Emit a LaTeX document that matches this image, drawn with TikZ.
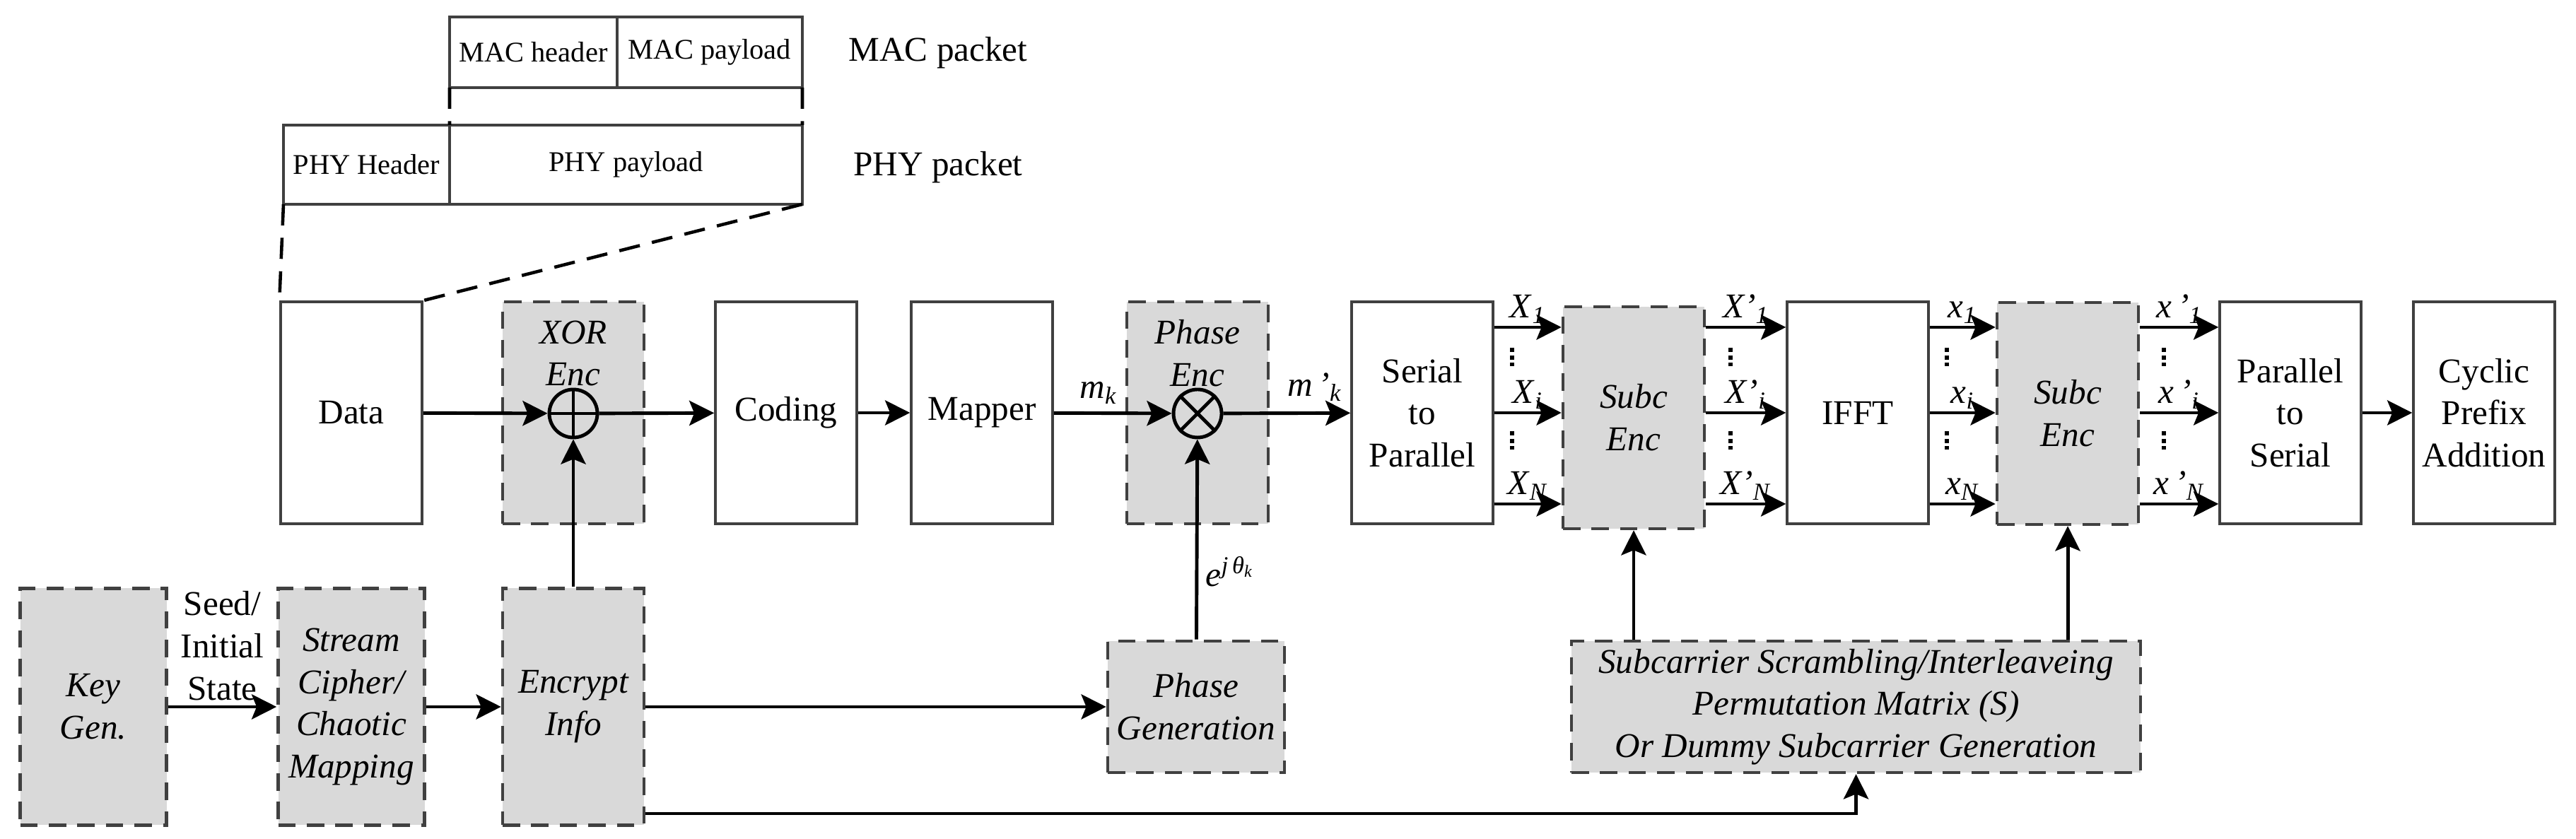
\documentclass[tikz,border=0pt]{standalone}
\usepackage{fontspec}
\setmainfont{Liberation Serif}
\usetikzlibrary{positioning,arrows.meta,calc}
\newcommand{\sym}[2]{\textit{#1}\textsubscript{\textit{#2}}}

\begin{document}
\begin{tikzpicture}[
  blk/.style={draw=black!75,line width=1pt,minimum width=2cm,minimum height=3.14cm,
    inner sep=0pt,align=center,font=\fontsize{14}{17}\selectfont},
  enc/.style={blk,fill=black!15,dash pattern=on 7pt off 4.5pt,line width=1.3pt,
    font=\fontsize{14}{17}\selectfont\itshape},
  pkt/.style={draw=black!75,line width=1.1pt,inner sep=0pt,outer sep=0pt,
    font=\fontsize{11.5}{14}\selectfont},
  arr/.style={-{Stealth[length=10pt,width=10pt,inset=2pt]},line width=1.4pt},
  op/.style={circle,draw,line width=1.4pt,minimum size=0.68cm,inner sep=0pt},
  lbl/.style={font=\fontsize{14}{17}\selectfont,inner sep=1pt},
  cut/.style={dash pattern=on 8.5pt off 5pt,line width=1.3pt},
  dots/.style={line width=1.7pt,dash pattern=on 1.7pt off 1.3pt}
]
\useasboundingbox (0,0) rectangle (36.44,11.87);

% packet formats
\node[pkt,minimum width=2.37cm,minimum height=1cm] (machdr) at (7.545,11.13) {MAC header};
\node[pkt,minimum width=2.62cm,minimum height=1cm,right=0pt of machdr] (macpay) {MAC payload};
\node[pkt,minimum width=2.35cm,minimum height=1.12cm] (phyhdr) at (5.185,9.54) {PHY Header};
\node[pkt,minimum width=4.99cm,minimum height=1.12cm,right=0pt of phyhdr] (phypay) {PHY payload};
\node[lbl] (macpkt) at (13.27,11.12) {MAC packet};
\node[lbl] (phypkt) at (13.27,9.50) {PHY packet};

% transmitter chain
\node[blk] (data) at (4.97,6.03) {Data};
\node[enc] (xorbox) at (8.11,6.03) {};
\node[blk] (coding) at (11.12,6.03) {Coding};
\node[blk] (mapper) at (13.89,6.03) {Mapper};
\node[enc] (phenc) at (16.94,6.03) {};
\node[blk] (sp) at (20.12,6.03) {Serial\\to\\Parallel};
\node[enc] (subca) at (23.11,5.96) {Subc\\Enc};
\node[blk] (ifft) at (26.28,6.03) {IFFT};
\node[enc] (subcb) at (29.25,6.02) {Subc\\Enc};
\node[blk] (ps) at (32.40,6.03) {Parallel\\to\\Serial};
\node[blk] (cp) at (35.14,6.03) {Cyclic\\Prefix\\Addition};

% operators inside the encryption boxes
\node[lbl,font=\fontsize{14}{17}\selectfont\itshape,align=center] (xortxt) at (8.11,6.87) {XOR\\Enc};
\node[lbl,font=\fontsize{14}{17}\selectfont\itshape,align=center] (phtxt) at (16.94,6.87) {Phase\\Enc};
\node[op] (xorc) at (8.11,6.02) {};
\node[op] (phc) at (16.94,6.02) {};
\draw[line width=1.4pt] (xorc.north) -- (xorc.south) (xorc.west) -- (xorc.east);
\draw[line width=1.4pt] (phc.north west) -- (phc.south east) (phc.north east) -- (phc.south west);

% key side
\node[enc,minimum width=2.07cm,minimum height=3.35cm] (keygen) at (1.32,1.87) {Key\\Gen.};
\node[enc,minimum width=2.07cm,minimum height=3.35cm] (stream) at (4.97,1.87) {Stream\\Cipher/\\Chaotic\\Mapping};
\node[enc,minimum height=3.35cm] (encr) at (8.11,1.87) {Encrypt\\Info};
\node[enc,minimum width=2.5cm,minimum height=1.86cm] (phgen) at (16.92,1.87) {Phase\\Generation};
\node[enc,minimum width=8.05cm,minimum height=1.86cm] (subcar) at (26.255,1.87)
  {Subcarrier Scrambling/Interleaveing\\Permutation Matrix (S)\\Or Dummy Subcarrier Generation};

% packet to data
\draw[cut] (machdr.south west) -- (phypay.north west);
\draw[cut] (macpay.south east) -- (phypay.north east);
\draw[cut] (phyhdr.south west) -- (data.north west);
\draw[cut] (phypay.south east) -- (data.north east);

% main flow
\draw[arr] (data) -- (xorc);
\draw[arr] (xorc) -- (coding);
\draw[arr] (coding) -- (mapper);
\draw[arr] (mapper) -- (phc) node[lbl,pos=0.38,above=2pt] {\sym{m}{k}};
\draw[arr] (phc) -- (sp) node[lbl,pos=0.72,above=3pt] {\sym{m\,'}{k}};
% parallel branches (r = box that sets the rows)
\foreach \a/\b/\r/\n in {sp/subca/sp/X, subca/ifft/ifft/X', ifft/subcb/ifft/x, subcb/ps/ps/x\,'}{
  \draw[arr] ($(\a.east |- \r.center)+(0,1.21)$) -- ($(\b.west |- \r.center)+(0,1.21)$)
    node[lbl,midway,above] {\sym{\n}{1}};
  \draw[arr] (\a.east |- \r.center) -- (\b.west |- \r.center)
    node[lbl,midway,above] {\sym{\n}{i}};
  \draw[arr] ($(\a.east |- \r.center)+(0,-1.29)$) -- ($(\b.west |- \r.center)+(0,-1.29)$)
    node[lbl,midway,above] {\sym{\n}{N}};
  \draw[dots] ($(\a.east |- \r.center)!0.5!(\b.west |- \r.center)+(-0.22,0.92)$) -- +(0,-0.26);
  \draw[dots] ($(\a.east |- \r.center)!0.5!(\b.west |- \r.center)+(-0.22,-0.26)$) -- +(0,-0.26);
}
\draw[arr] (ps) -- (cp);

% key distribution
\draw[arr] (keygen) -- (stream) node[lbl,midway,above=1pt,align=center] {Seed/\\Initial\\State};
\draw[arr] (stream) -- (encr);
\draw[arr] (encr) -- (xorc);
\draw[arr] (encr) -- (phgen);
\draw[arr] (phgen) -- (phc) node[lbl,pos=0.34,right=2pt] {\textit{e}\textsuperscript{\textit{j\,θ}\textsubscript{\textit{k}}}};
\draw[arr] ([yshift=-1.51cm]encr.east) -| (subcar.south);
\draw[arr] (subcar.north -| subca.south) -- (subca.south);
\draw[arr] (subcar.north -| subcb.south) -- (subcb.south);
\end{tikzpicture}
\end{document}
